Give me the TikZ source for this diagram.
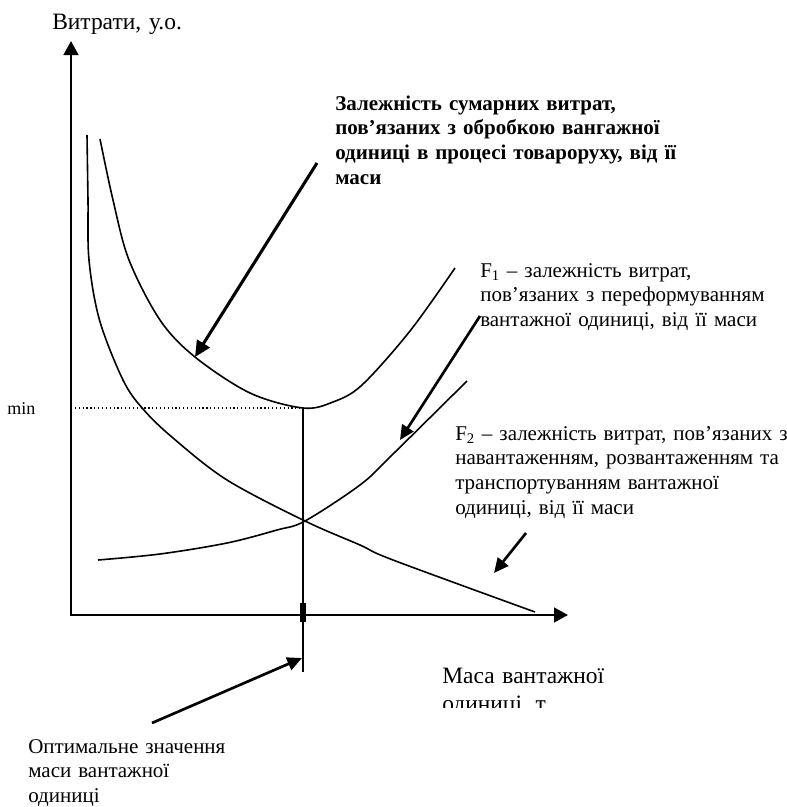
\documentclass[tikz,border=0pt]{standalone}
\usepackage{fontspec}
\setmainfont{Liberation Serif}
\usetikzlibrary{arrows.meta}
\newcommand\fnote{\fontsize{15.75pt}{18.5pt}\selectfont}
\newcommand\faxis{\fontsize{17.6pt}{21pt}\selectfont}
\newcommand\fmin{\fontsize{13.5pt}{16pt}\selectfont}
\begin{document}
\begin{tikzpicture}[x=0.75pt,y=-0.75pt,
  axisline/.style={line width=1.9pt, {Triangle[length=10.5pt,width=11pt]}-{Triangle[length=10.5pt,width=11pt]}},
  curveline/.style={line width=1.2pt, smooth, tension=0.55},
  pointer/.style={line width=2pt, -{Triangle[length=11pt,width=10pt]}},
  boldpointer/.style={line width=2.3pt, -{Triangle[length=12pt,width=11pt]}},
  txt/.style={inner sep=0pt, anchor=base west, align=left, text width=#1},
]
\useasboundingbox (0,0) rectangle (787,807);

% axes
\coordinate (ytip) at (71,41);
\coordinate (orig) at (71,615);
\coordinate (xtip) at (568,615);
\draw[axisline] (ytip) -- (orig) -- (xtip);

% optimum: minimum of the total cost curve
\coordinate (minpt) at (303,408);
\coordinate (ymin) at (71,408);
\coordinate (vbot) at (303,672);
\draw[line width=0.9pt, dotted] (ymin) -- (minpt);
\draw[line width=1.1pt] (minpt) -- (vbot);
\fill (299.5,602.5) rectangle (306,621.5);

% total cost curve
\draw[curveline] plot coordinates {(100,139) (113,200) (129,260) (160,320) (195,357) (250,393) (303,408) (333,402) (362,385) (410,331) (455,268)};
% F1: decreasing curve
\draw[curveline] plot coordinates {(87,135) (88,200) (89,260) (99.5,320) (123,380) (143,409) (173,438) (227,480) (305,521) (360,545) (393,560) (535,612)};
% F2: increasing curve
\draw[curveline] plot coordinates {(98,560) (160,554) (227,543) (277,530) (305,521) (360,485) (390,457) (467,381)};

% labels
\node[txt=200pt, font=\faxis] (ylab) at (52,29) {Витрати, у.о.};
\node[txt=60pt, font=\fmin] (minlab) at (7,414) {min};
\node[txt=260pt, font=\fnote\bfseries] (totlab) at (335,110)
  {Залежність сумарних витрат,\\пов’язаних з обробкою вангажної\\одиниці в процесі товароруху, від її\\маси};
\node[txt=240pt, font=\fnote] (f1lab) at (480,277)
  {F\textsubscript{1} – залежність витрат,\\пов’язаних з переформуванням\\вантажної одиниці, від її маси};
\node[txt=260pt, font=\fnote] (f2lab) at (455,440)
  {F\textsubscript{2} – залежність витрат, пов’язаних з\\навантаженням, розвантаженням та\\транспортуванням вантажної\\одиниці, від її маси};
\node[txt=200pt, font=\fnote] (optlab) at (28,753)
  {Оптимальне значення\\маси вантажної\\одиниці};
\begin{scope}
  \clip (430,640) rectangle (787,707);
  \node[txt=200pt, font=\faxis] (xlab) at (442,683) {Маса вантажної\\одиниці, т};
\end{scope}

% pointers
\coordinate (totfrom) at (317,163);
\coordinate (totto) at (195,357);
\draw[boldpointer] (totfrom) -- (totto);
\coordinate (f1from) at (480,316);
\coordinate (f1to) at (400,440);
\draw[pointer] (f1from) -- (f1to);
\coordinate (f2from) at (526,533);
\coordinate (f2to) at (494,573);
\draw[pointer] (f2from) -- (f2to);
\coordinate (optfrom) at (152,723);
\coordinate (optto) at (302,658);
\draw[pointer] (optfrom) -- (optto);
\end{tikzpicture}
\end{document}
